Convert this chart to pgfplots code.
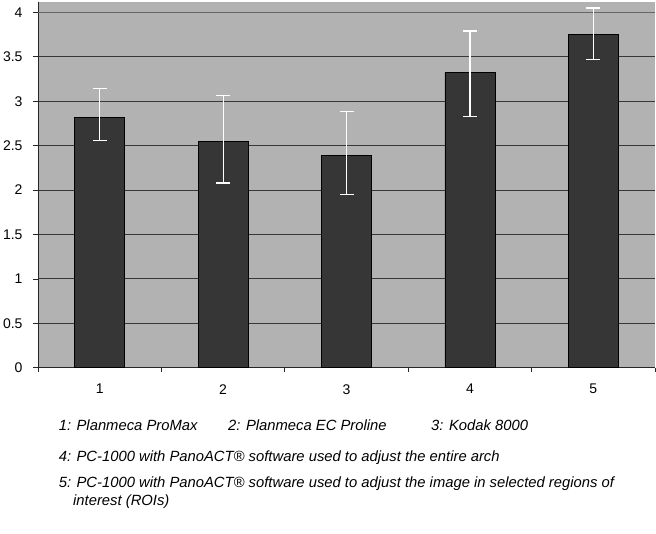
\documentclass[border=0pt]{standalone}
\usepackage{pgfplots}
\pgfplotsset{compat=1.18}
\usepackage{fontspec}
\setmainfont{Liberation Sans}
\definecolor{bg}{RGB}{178,178,178}
\definecolor{barc}{RGB}{54,54,54}
\definecolor{gridc}{RGB}{55,55,55}
\begin{document}
\begin{tikzpicture}[x=1pt,y=1pt]
\useasboundingbox (0,0) rectangle (656,534);
\begin{axis}[
  at={(38pt,166.3pt)}, anchor=south west,
  scale only axis, width=617pt, height=366pt,
  xmin=0.5, xmax=5.5, ymin=0, ymax=4.12,
  axis background/.style={fill=bg},
  axis x line*=bottom, axis y line*=left,
  axis line style={draw=black!85, line width=0.7pt},
  ytick={0,0.5,...,3.5},
  extra y ticks={4},
  extra y tick style={grid style={gray!80!black, line width=0.6pt}},
  ymajorgrids, grid style={gridc, line width=0.9pt},
  xtick={1,2,3,4,5},
  minor xtick={0.5,1.5,...,5.5},
  major x tick style={draw=none},
  minor x tick style={draw=black!85, line width=0.7pt},
  tick align=outside, major tick length=5pt, minor tick length=4pt,
  major y tick style={draw=black!85, line width=0.7pt},
  ticklabel style={font=\fontsize{14}{16}\selectfont},
  /pgf/number format/assume math mode=true,
  xticklabel style={yshift=-8pt},
  yticklabel style={xshift=-7pt},
]
\addplot[ybar, bar width=50pt, fill=barc, draw=black, line width=0.7pt,
  error bars/.cd, y dir=both, y explicit,
  error bar style={white, line width=1.2pt},
  error mark options={rotate=90, mark size=7pt, white, line width=1.2pt}]
  coordinates {
    (1,2.82) += (0,0.32) -= (0,0.26)
    (2,2.55) += (0,0.51) -= (0,0.47)
    (3,2.39) += (0,0.49) -= (0,0.44)
    (4,3.32) += (0,0.47) -= (0,0.49)
    (5,3.75) += (0,0.30) -= (0,0.28)
  };
\end{axis}
\begin{scope}[every node/.style={inner sep=0pt, anchor=base west, font=\fontsize{14.8}{17}\selectfont\itshape}]
\node at (58.6,103) {1: Planmeca ProMax};
\node at (228,103) {2: Planmeca EC Proline};
\node at (431,103) {3: Kodak 8000};
\node at (58.6,72) {4: PC-1000 with PanoACT® software used to adjust the entire arch};
\node at (58.6,46) {5: PC-1000 with PanoACT® software used to adjust the image in selected regions of};
\node at (73,28) {interest (ROIs)};
\end{scope}
\end{tikzpicture}
\end{document}
